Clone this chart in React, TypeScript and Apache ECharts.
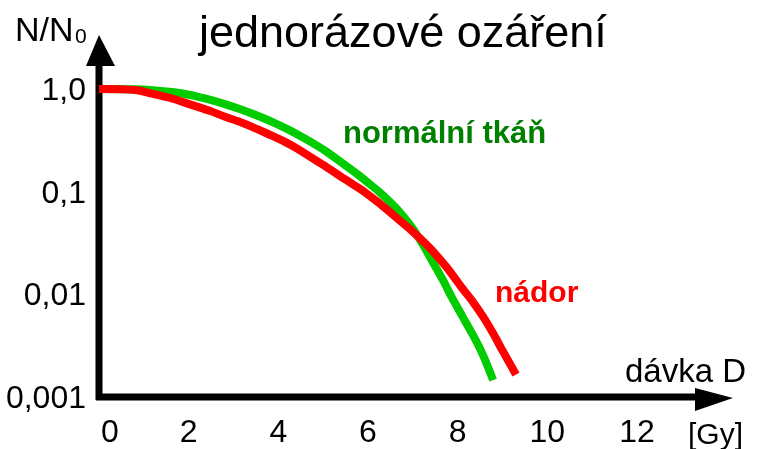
import React, { useEffect, useRef } from "react";
import * as echarts from "echarts";

const FONT = "'Liberation Sans', Arial, sans-serif";

const xTicks = [0, 2, 4, 6, 8, 10, 12];
const yTickLabels = ["0,001", "0,01", "0,1", "1,0"];

const normalDose = [0, 0.8, 1.2, 1.63, 2.03, 2.36, 2.77, 3.17, 3.52, 3.86, 4.19, 4.48, 4.77, 5.04, 5.44, 5.78, 6.05, 6.27, 6.65, 7.0, 7.23, 7.45, 7.67, 7.87, 8.1, 8.32, 8.5, 8.65, 8.79];
const normalSurvival = [1.0, 0.993, 0.973, 0.933, 0.875, 0.809, 0.721, 0.631, 0.552, 0.479, 0.409, 0.351, 0.297, 0.251, 0.188, 0.146, 0.1175, 0.0977, 0.0676, 0.0437, 0.0302, 0.0204, 0.0138, 0.00933, 0.00617, 0.00417, 0.00295, 0.00209, 0.00146];

const tumorDose = [0, 0.8, 1.18, 1.61, 2.03, 2.45, 2.81, 3.19, 3.55, 3.88, 4.19, 4.44, 4.89, 5.18, 5.42, 5.69, 5.93, 6.27, 6.65, 7.0, 7.38, 7.76, 8.12, 8.32, 8.57, 8.79, 8.99, 9.21, 9.3];
const tumorSurvival = [1.0, 0.977, 0.902, 0.813, 0.708, 0.617, 0.537, 0.468, 0.403, 0.347, 0.299, 0.26, 0.195, 0.162, 0.138, 0.116, 0.0989, 0.0759, 0.055, 0.0407, 0.0282, 0.0182, 0.0112, 0.0087, 0.00603, 0.00417, 0.00288, 0.00195, 0.00165];

const title = "jednorázové ozáření";
const yName = "N/N";
const yNameSub = "0";
const xName = "dávka D";
const xUnit = "[Gy]";
const normalLabel = "normální tkáň";
const tumorLabel = "nádor";

export default function App() {
  const ref = useRef<HTMLDivElement>(null);
  useEffect(() => {
    const chart = echarts.init(ref.current!, null, { renderer: "svg" });
    const pairs = (xs: number[], ys: number[]) => xs.map((x, i) => [x, ys[i]]);
    chart.setOption({
      animation: false,
      title: {
        text: title,
        left: 199,
        top: 9,
        padding: 0,
        textStyle: { fontFamily: FONT, fontSize: 45, fontWeight: "normal", color: "#000", lineHeight: 45 },
      },
      grid: { left: 99, right: 122, top: 89, bottom: 52 },
      xAxis: {
        type: "value",
        min: 0,
        max: 12,
        interval: 2,
        axisLine: { show: false },
        axisTick: { show: false },
        splitLine: { show: false },
        axisLabel: {
          margin: 18,
          fontFamily: FONT,
          fontSize: 32,
          lineHeight: 32,
          color: "#000",
          formatter: (v: number) => {
            const t = xTicks.find((k) => Math.abs(k - v) < 1e-6);
            if (t === undefined) return "";
            return t === 0 ? "{first|" + t + "}" : String(t);
          },
          rich: { first: { fontFamily: FONT, fontSize: 32, lineHeight: 32, color: "#000", padding: [0, 0, 0, 22] } },
        },
      },
      yAxis: {
        type: "log",
        logBase: 10,
        min: 0.001,
        max: 1,
        axisLine: { show: false },
        axisTick: { show: false },
        splitLine: { show: false },
        axisLabel: {
          margin: 13,
          fontFamily: FONT,
          fontSize: 32,
          lineHeight: 32,
          color: "#000",
          formatter: (v: number) => {
            const idx = Math.round(Math.log10(v)) + 3;
            return yTickLabels[idx] ?? "";
          },
        },
      },
      series: [
        {
          type: "line",
          name: normalLabel,
          data: pairs(normalDose, normalSurvival),
          symbol: "none",
          smooth: 0.3,
          lineStyle: { color: "#00cc00", width: 8, cap: "butt" },
          z: 2,
        },
        {
          type: "line",
          name: tumorLabel,
          data: pairs(tumorDose, tumorSurvival),
          symbol: "none",
          smooth: 0.3,
          lineStyle: { color: "#ff0000", width: 8, cap: "butt" },
          z: 3,
        },
      ],
    });

    const o = chart.convertToPixel({ gridIndex: 0 }, [0, 0.001]) as number[];
    const t = chart.convertToPixel({ gridIndex: 0 }, [0, 1]) as number[];
    const r = chart.convertToPixel({ gridIndex: 0 }, [12, 0.001]) as number[];
    const ox = o[0], oy = o[1], ty = t[1], rx = r[0];

    const txt = (text: string, x: number, baseline: number, size: number, color: string, weight = "normal") => ({
      type: "text",
      x,
      y: baseline - 0.3465 * size,
      style: { text, fontFamily: FONT, fontSize: size, fontWeight: weight, fill: color, verticalAlign: "middle", align: "left" },
    });

    chart.setOption({
      graphic: [
        { type: "line", shape: { x1: ox, y1: oy + 3, x2: ox, y2: ty - 30 }, style: { stroke: "#000", lineWidth: 7 } },
        { type: "polygon", shape: { points: [[ox, ty - 54], [ox - 13, ty - 23], [ox + 16, ty - 23]] }, style: { fill: "#000" } },
        { type: "line", shape: { x1: ox - 3, y1: oy, x2: rx + 70, y2: oy }, style: { stroke: "#000", lineWidth: 7 } },
        { type: "polygon", shape: { points: [[rx + 58, oy - 9], [rx + 96, oy + 1], [rx + 58, oy + 14]] }, style: { fill: "#000" } },
        txt(yName, 15, 41, 34, "#000"),
        txt(yNameSub, 75, 43, 21, "#000"),
        txt(normalLabel, 343, 143, 31, "#008000", "bold"),
        txt(tumorLabel, 495, 302, 30, "#ff0000", "bold"),
        txt(xName, 625, 382, 33, "#000"),
        txt(xUnit, 688, 444, 30, "#000"),
      ],
    });

    return () => chart.dispose();
  }, []);
  return <div ref={ref} style={{ position: "fixed", left: 0, top: 0, width: 759, height: 449 }} />;
}
